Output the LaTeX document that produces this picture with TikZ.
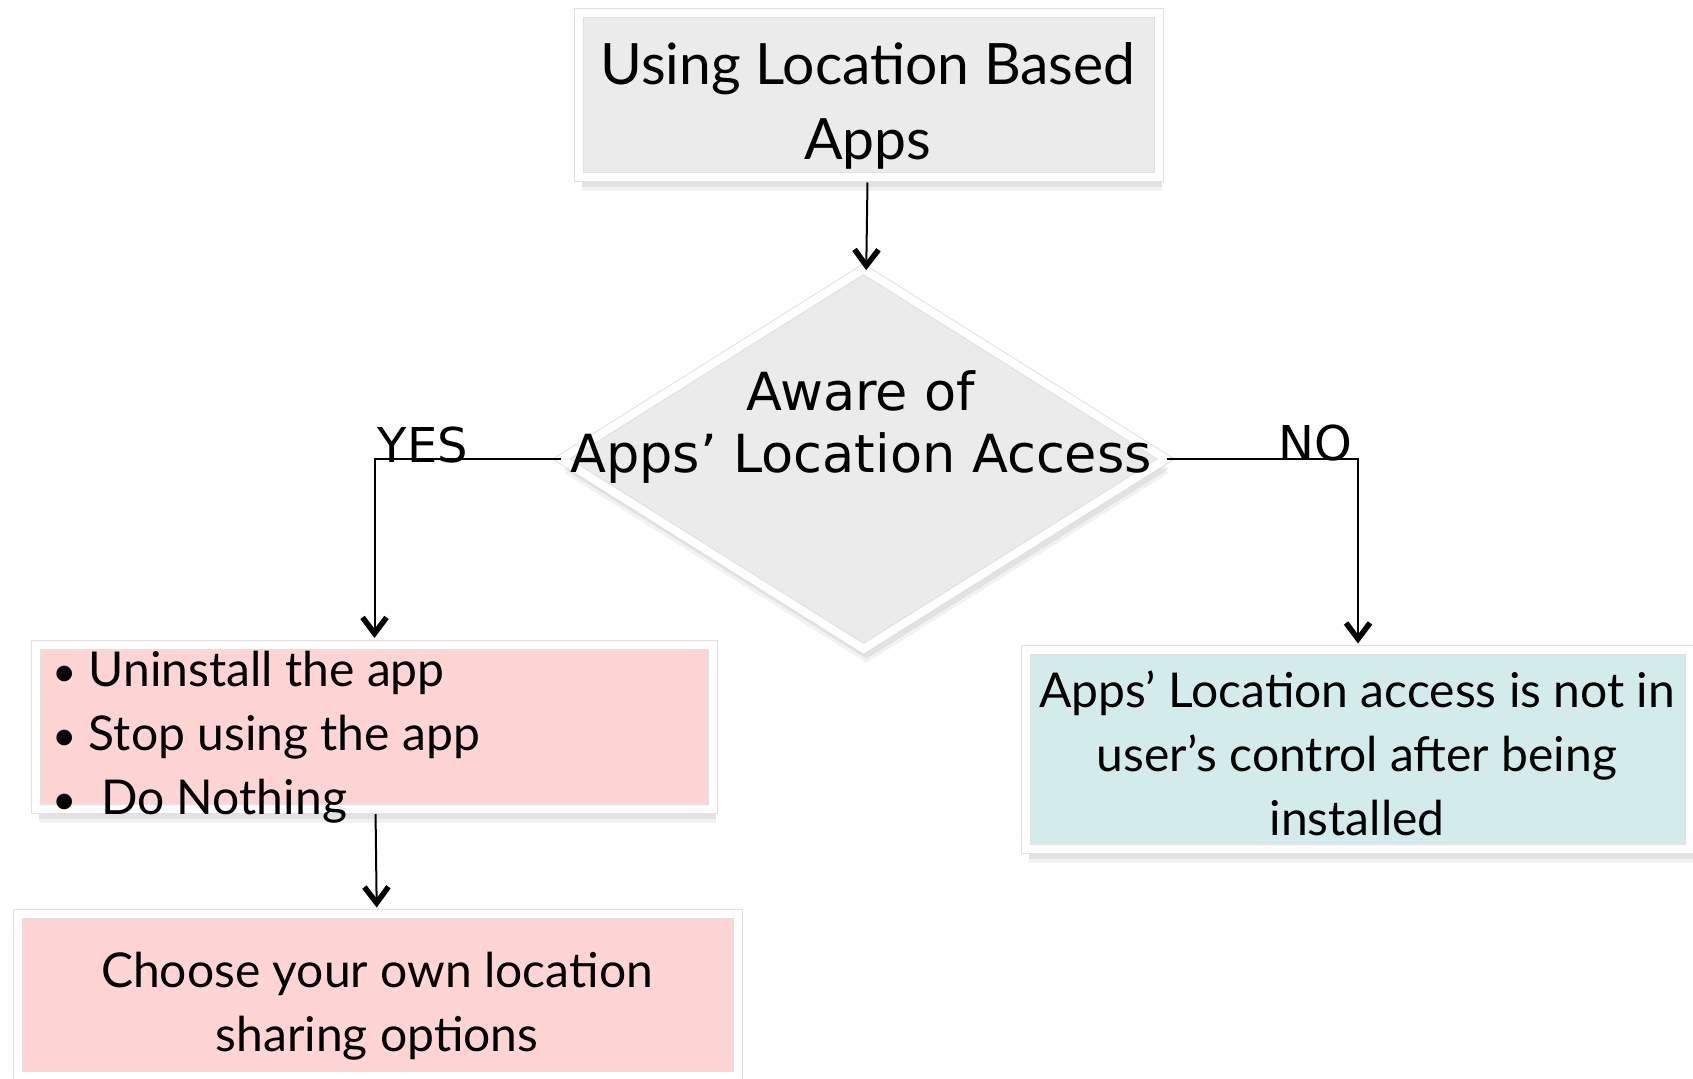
\documentclass[tikz,border=0pt]{standalone}
\usepackage{fontspec}
\setmainfont{Lato}
\newfontfamily\dejavu{DejaVu Sans}
\usetikzlibrary{shapes.geometric,shadows,arrows.meta}

\definecolor{boxgrey}{HTML}{EBEBEB}
\definecolor{boxpink}{HTML}{FFD4D4}
\definecolor{boxteal}{HTML}{D3EBEB}

\begin{document}
\begin{tikzpicture}[x=1pt,y=-1pt,line width=2pt,
  >={Straight Barb[length=16pt,width=24pt,line width'=5.5pt]},
  card/.style={draw=black!12,line width=1pt,double=white,double distance=8pt,
    inner sep=0pt,
    drop shadow={shadow xshift=3pt,shadow yshift=-14pt,opacity=0.10},
    drop shadow={shadow xshift=3pt,shadow yshift=-10pt,opacity=0.14}},
  boxtext/.style={font=\fontsize{48}{64}\selectfont,align=center},
  yesno/.style={font=\dejavu\fontsize{48}{48}\selectfont}]
  \useasboundingbox (0,0) rectangle (1693,1078);

  % boxes and their texts
  \node[card,fill=boxgrey,minimum width=580pt,minimum height=164pt] (title)
    at (868.75,95) {};
  \node[boxtext,font=\fontsize{57}{75}\selectfont] (titletxt) at (868,106)
    {Using Location Based\\Apps};
  \node[card,shape=diamond,fill=boxgrey,minimum width=605pt,minimum height=380pt]
    (aware) at (863.5,459) {};
  \node[font=\dejavu\fontsize{52.5}{62}\selectfont,align=center] (awaretxt)
    at (861,427) {Aware of\\Apps’ Location Access};
  \node[card,fill=boxpink,minimum width=677pt,minimum height=164pt] (opts)
    at (374.5,726.5) {};
  \node[boxtext,anchor=west,align=left] (optlist) at (48,737)
    {{\fontsize{42}{42}\selectfont\textbullet}\ Uninstall the app\\
     {\fontsize{42}{42}\selectfont\textbullet}\ Stop using the app\\
     {\fontsize{42}{42}\selectfont\textbullet}\ \ Do Nothing};
  \node[card,fill=boxpink,minimum width=720pt,minimum height=162pt] (choose)
    at (377.75,995) {};
  \node[boxtext] (choosetxt) at (377,1006)
    {Choose your own location\\sharing options};
  \node[card,fill=boxteal,minimum width=664pt,minimum height=199pt] (ctrl)
    at (1358,749.5) {};
  \node[boxtext] (ctrltxt) at (1357,753)
    {Apps’ Location access is not in\\user’s control after being\\installed};

  % connectors
  \draw[->,shorten <=5pt] (title) -- (aware);
  \draw[->,shorten >=6pt] (aware.west) -| (opts.north);
  \draw[->,shorten >=6pt] (aware.east) -| (ctrl.north);
  \draw[->,shorten <=5pt,shorten >=6pt] (opts) -- (choose);
  \node[yesno] (yes) at (423,445) {YES};
  \node[yesno] (no) at (1315,443) {NO};
\end{tikzpicture}
\end{document}
